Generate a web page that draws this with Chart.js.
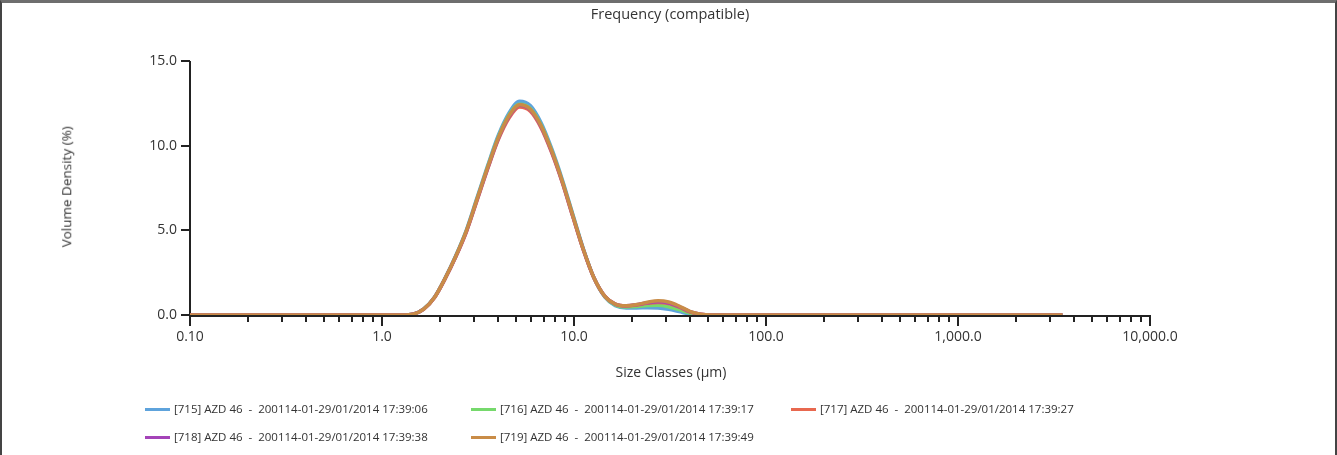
<!DOCTYPE html>
<html><head><meta charset="utf-8">
<script src="https://cdn.jsdelivr.net/npm/chart.js@4.4.1/dist/chart.umd.min.js"></script>
<style>
html,body{margin:0;padding:0;background:#fff;}
#wrap{position:relative;width:1337px;height:455px;overflow:hidden;font-family:"Open Sans",sans-serif;color:#333;}
#frame{position:absolute;left:0;top:0;width:1333px;height:452px;border-top:3px solid #6e6e6e;border-left:2px solid #444;border-right:2px solid #444;pointer-events:none;}
canvas{position:absolute;left:0;top:0;}
.t{position:absolute;white-space:pre;line-height:1;}
.lg{position:absolute;height:16px;white-space:pre;font-size:11.5px;line-height:16px;}
.lg i{position:absolute;left:0;top:7px;width:25px;height:3px;}
.lg span{position:absolute;left:29px;top:0;}
</style></head>
<body>
<div id="wrap">
<canvas id="c" width="1337" height="455"></canvas>
<div class="t" id="title" style="left:0;width:1340px;text-align:center;top:7px;font-size:14.5px;">Frequency (compatible)</div>
<div class="t" id="xtitle" style="left:0;width:1342px;text-align:center;top:365px;font-size:14px;">Size Classes (µm)</div>
<div class="t" id="ytitle" style="left:-3px;top:180px;width:140px;text-align:center;font-size:13.5px;transform:rotate(-90deg);">Volume Density (%)</div>
<div id="legend"></div>
<div id="frame"></div>
</div>
<script>
const sizeClasses = [0.1, 0.2, 0.5, 1.0, 1.13, 1.28, 1.45, 1.65, 1.88, 2.13, 2.42, 2.75, 3.12, 3.55, 4.03, 4.58, 5.21, 5.92, 6.72, 7.64, 8.68, 9.86, 11.2, 12.7, 14.5, 16.4, 18.7, 21.2, 24.1, 27.4, 31.1, 35.3, 40.1, 45.6, 51.8, 58.9, 100, 500, 1000, 3500];

const s715 = [0,0,0,0, 0,0,0.05,0.36,1.07, 2.18,3.5,5.02,6.9,8.82, 10.6,11.92,12.62,12.37,11.38, 9.85,8.02,5.95,3.9,2.2, 1.05,0.55,0.42,0.42,0.43, 0.42,0.34,0.2,0.06,0.0, 0,0,0,0,0,0];
const s716 = [0,0,0,0, 0,0,0.05,0.36,1.06, 2.17,3.47,4.98,6.84,8.75, 10.5,11.8,12.45,12.2,11.25, 9.75,7.94,5.9,3.87,2.2, 1.07,0.59,0.47,0.5,0.56, 0.57,0.49,0.32,0.11,0.02, 0,0,0,0,0,0];
const s717 = [0,0,0,0, 0,0,0.05,0.35,1.04, 2.13,3.42,4.9,6.74,8.62, 10.34,11.62,12.28,12.03,11.08, 9.6,7.83,5.8,3.82,2.19, 1.1,0.64,0.53,0.59,0.69, 0.74,0.67,0.46,0.18,0.04, 0,0,0,0,0,0];
const s718 = [0,0,0,0, 0,0,0.05,0.35,1.05, 2.14,3.44,4.93,6.77,8.66, 10.41,11.7,12.38,12.12,11.15, 9.66,7.87,5.83,3.84,2.2, 1.1,0.65,0.55,0.61,0.72, 0.78,0.71,0.49,0.2,0.05, 0,0,0,0,0,0];
const s719 = [0,0,0,0, 0,0,0.05,0.35,1.05, 2.15,3.45,4.95,6.8,8.7, 10.45,11.75,12.42,12.15,11.2, 9.7,7.9,5.85,3.85,2.2, 1.1,0.65,0.55,0.62,0.75, 0.84,0.77,0.53,0.22,0.05, 0,0,0,0,0,0];

const seriesNames = [
  "[715] AZD 46  -  200114-01-29/01/2014 17:39:06",
  "[716] AZD 46  -  200114-01-29/01/2014 17:39:17",
  "[717] AZD 46  -  200114-01-29/01/2014 17:39:27",
  "[718] AZD 46  -  200114-01-29/01/2014 17:39:38",
  "[719] AZD 46  -  200114-01-29/01/2014 17:39:49"
];
const seriesColors = ["#5ea3dc", "#76d96c", "#e8684f", "#a443b8", "#c98c47"];
const seriesValues = [s715, s716, s717, s718, s719];

const yTicks = [0, 5, 10, 15];
const xMajorTicks = [0.1, 1, 10, 100, 1000, 10000];
const xTickLabels = ["0.10", "1.0", "10.0", "100.0", "1,000.0", "10,000.0"];
const xMinorSteps = [2, 3, 4, 5, 6, 7, 8, 9];

const allXTicks = [];
xMajorTicks.forEach((m, i) => {
  allXTicks.push(m);
  if (i < xMajorTicks.length - 1) xMinorSteps.forEach(s => allXTicks.push(m * s));
});

// legend (HTML)
const legendPos = [[145, 401], [471, 401], [791, 401], [145, 429], [471, 429]];
const lg = document.getElementById('legend');
seriesNames.forEach((n, i) => {
  const d = document.createElement('div');
  d.className = 'lg';
  d.style.left = legendPos[i][0] + 'px';
  d.style.top = legendPos[i][1] + 'px';
  d.innerHTML = '<i style="background:' + seriesColors[i] + '"></i><span></span>';
  d.querySelector('span').textContent = n;
  lg.appendChild(d);
});

const axisPlugin = {
  id: 'axes',
  beforeDatasetsDraw(chart) {
    const { ctx, chartArea: a, scales: { x, y } } = chart;
    ctx.save();
    ctx.strokeStyle = '#222';
    ctx.lineWidth = 2;
    ctx.beginPath();
    ctx.moveTo(a.left, a.top); ctx.lineTo(a.left, a.bottom + 11);
    ctx.moveTo(a.left, a.bottom + 1); ctx.lineTo(a.right, a.bottom + 1);
    yTicks.forEach(v => { const p = Math.round(y.getPixelForValue(v)); ctx.moveTo(a.left - 9, p); ctx.lineTo(a.left, p); });
    x.ticks.forEach(t => {
      const p = Math.round(x.getPixelForValue(t.value));
      const major = xMajorTicks.includes(t.value);
      ctx.moveTo(p, a.bottom); ctx.lineTo(p, a.bottom + (major ? 11 : 7));
    });
    ctx.stroke();
    ctx.restore();
  }
};

const datasets = seriesValues.map((vals, i) => ({
  label: seriesNames[i],
  data: sizeClasses.map((sx, j) => ({ x: sx, y: vals[j] })),
  borderColor: seriesColors[i],
  backgroundColor: seriesColors[i],
  borderWidth: 3.5,
  pointRadius: 0,
  fill: false,
  cubicInterpolationMode: 'monotone',
  order: 5 - i
}));

new Chart(document.getElementById('c'), {
  type: 'line',
  data: { datasets },
  options: {
    responsive: false,
    animation: false,
    devicePixelRatio: 1,
    layout: { padding: { left: 0, top: 61, right: 187, bottom: 0 } },
    plugins: { legend: { display: false }, title: { display: false }, tooltip: { enabled: false } },
    scales: {
      x: {
        type: 'logarithmic', min: 0.1, max: 10000,
        afterFit(s) { s.height = 140; },
        afterBuildTicks(s) { s.ticks = allXTicks.map(v => ({ value: v })); },
        grid: { display: false, drawTicks: false },
        border: { display: false },
        ticks: {
          autoSkip: false, maxRotation: 0, minRotation: 0, padding: 14, color: '#333',
          font: { family: 'Open Sans', size: 14 },
          callback(v) { const k = xMajorTicks.indexOf(v); return k >= 0 ? xTickLabels[k] : ''; }
        }
      },
      y: {
        min: 0, max: 15,
        afterFit(s) { s.width = 190; },
        afterBuildTicks(s) { s.ticks = yTicks.map(v => ({ value: v })); },
        grid: { display: false, drawTicks: false },
        border: { display: false },
        ticks: {
          padding: 13, color: '#333', font: { family: 'Open Sans', size: 14 },
          callback(v) { return Number(v).toFixed(1); }
        }
      }
    }
  },
  plugins: [axisPlugin]
});
</script>
</body></html>
